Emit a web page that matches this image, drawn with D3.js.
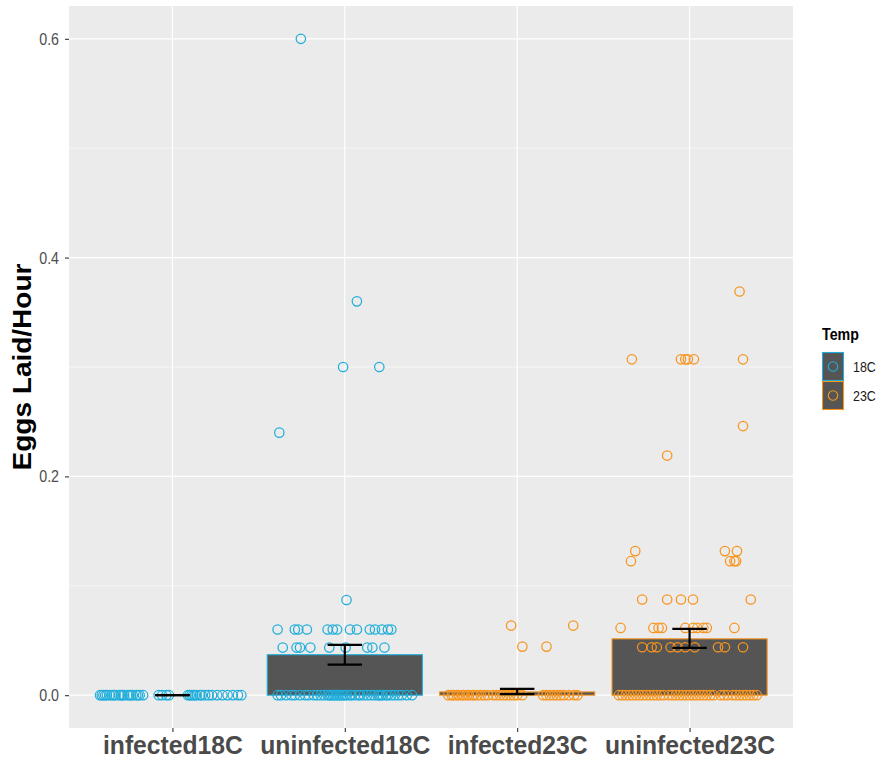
<!DOCTYPE html>
<html>
<head>
<meta charset="utf-8">
<script src="https://cdn.jsdelivr.net/npm/d3@7"></script>
<style>
  html, body { margin: 0; padding: 0; background: #ffffff; }
  svg { display: block; font-family: "Liberation Sans", Arial, sans-serif; }
</style>
</head>
<body>
<svg id="chart" width="889" height="760"></svg>
<script>
// Groups on the x axis and their temperature
const groups = ["infected18C", "uninfected18C", "infected23C", "uninfected23C"];
const groupTemp = ["18C", "18C", "23C", "23C"];
const temps = ["18C", "23C"];
const tempColors = ["#1FAEDB", "#F7951F"];

// Mean eggs laid per hour and standard-error limits
const means = [0, 0.037, 0.003, 0.0515];
const seLow = [0, 0.028, 0.001, 0.0432];
const seHigh = [0, 0.046, 0.0057, 0.0606];

// Individual observations: [eggs per hour, horizontal jitter in group widths]
const infected18C = [
  [0,-0.42],[0,-0.41],[0,-0.40],[0,-0.39],[0,-0.38],[0,-0.365],[0,-0.35],[0,-0.34],[0,-0.33],
  [0,-0.31],[0,-0.30],[0,-0.29],[0,-0.28],[0,-0.26],[0,-0.25],[0,-0.24],[0,-0.23],[0,-0.21],
  [0,-0.20],[0,-0.19],[0,-0.17],
  [0,-0.08],[0,-0.06],[0,-0.035],[0,-0.02],
  [0,0.09],[0,0.10],[0,0.11],[0,0.12],[0,0.13],[0,0.14],[0,0.16],[0,0.17],[0,0.19],[0,0.21],
  [0,0.23],[0,0.26],[0,0.29],[0,0.32],[0,0.35],[0,0.38],[0,0.40]
];
const uninfected18C = [
  [0.6,-0.255],[0.36,0.07],[0.30,-0.01],[0.30,0.20],[0.24,-0.38],[0.087,0.01],
  [0.06,-0.39],[0.06,-0.29],[0.06,-0.27],[0.06,-0.22],[0.06,-0.10],[0.06,-0.07],[0.06,-0.045],
  [0.06,0.03],[0.06,0.07],[0.06,0.145],[0.06,0.175],[0.06,0.215],[0.06,0.25],[0.06,0.27],
  [0.0435,-0.36],[0.0435,-0.28],[0.0435,-0.26],[0.0435,-0.20],[0.0435,-0.09],[0.0435,0.005],
  [0.0435,0.13],[0.0435,0.16],[0.0435,0.23],
  [0,-0.39],[0,-0.37],[0,-0.34],[0,-0.31],[0,-0.29],[0,-0.26],[0,-0.23],[0,-0.21],[0,-0.18],
  [0,-0.16],[0,-0.14],[0,-0.12],[0,-0.10],[0,-0.09],[0,-0.08],[0,-0.07],[0,-0.06],[0,-0.05],
  [0,-0.04],[0,-0.03],[0,-0.02],[0,-0.01],[0,0.0],[0,0.01],[0,0.03],[0,0.04],[0,0.06],[0,0.08],
  [0,0.09],[0,0.11],[0,0.13],[0,0.15],[0,0.17],[0,0.19],[0,0.20],[0,0.21],[0,0.22],[0,0.24],
  [0,0.25],[0,0.27],[0,0.29],[0,0.31],[0,0.33],[0,0.36],[0,0.39]
];
const infected23C = [
  [0.0636,-0.035],[0.0636,0.325],[0.0444,0.03],[0.0444,0.17],
  [0,-0.40],[0,-0.38],[0,-0.37],[0,-0.35],[0,-0.34],[0,-0.32],[0,-0.31],[0,-0.29],[0,-0.28],
  [0,-0.26],[0,-0.25],[0,-0.23],[0,-0.21],[0,-0.19],[0,-0.17],[0,-0.14],[0,-0.12],[0,-0.10],
  [0,-0.08],[0,-0.06],[0,-0.04],[0,-0.02],[0,0.0],[0,0.03],
  [0,0.15],[0,0.17],[0,0.19],[0,0.21],[0,0.23],[0,0.25],[0,0.27],[0,0.30],[0,0.33],[0,0.35]
];
const uninfected23C = [
  [0.369,0.29],[0.307,-0.335],[0.307,-0.05],[0.307,-0.025],[0.307,-0.01],[0.307,0.025],[0.307,0.31],
  [0.246,0.31],[0.219,-0.13],
  [0.1317,-0.315],[0.1317,0.205],[0.1317,0.275],
  [0.1225,-0.34],[0.1225,0.235],[0.1225,0.26],[0.1225,0.27],
  [0.0875,-0.275],[0.0875,-0.13],[0.0875,-0.05],[0.0875,0.02],[0.0875,0.355],
  [0.0615,-0.40],[0.0615,-0.21],[0.0615,-0.18],[0.0615,-0.16],[0.0615,-0.025],[0.0615,0.02],
  [0.0615,0.045],[0.0615,0.08],[0.0615,0.10],[0.0615,0.26],
  [0.0438,-0.275],[0.0438,-0.22],[0.0438,-0.19],[0.0438,-0.11],[0.0438,-0.07],[0.0438,-0.025],
  [0.0438,0.03],[0.0438,0.165],[0.0438,0.205],[0.0438,0.31],
  [0,-0.41],[0,-0.39],[0,-0.37],[0,-0.35],[0,-0.33],[0,-0.31],[0,-0.29],[0,-0.27],[0,-0.25],
  [0,-0.23],[0,-0.21],[0,-0.19],[0,-0.17],[0,-0.15],[0,-0.12],[0,-0.10],[0,-0.08],[0,-0.06],
  [0,-0.04],[0,-0.02],[0,0.0],[0,0.02],[0,0.04],[0,0.06],[0,0.08],[0,0.10],[0,0.12],[0,0.14],
  [0,0.18],[0,0.20],[0,0.22],[0,0.25],[0,0.27],[0,0.29],[0,0.31],[0,0.33],[0,0.35],[0,0.37],[0,0.39]
];
const observations = [infected18C, uninfected18C, infected23C, uninfected23C];

// Axis ticks
const yMajorTicks = [0, 0.2, 0.4, 0.6];
const yMinorTicks = [0.1, 0.3, 0.5];
const yTitle = "Eggs Laid/Hour";
const legendTitle = "Temp";

// Layout
const panel = { left: 69, top: 6, right: 793, bottom: 728 };
const barWidth = 0.9, errWidth = 0.2;
const squeeze = 0.89; // horizontal text compression

const svg = d3.select("#chart");
const colorOf = d3.scaleOrdinal().domain(temps).range(tempColors);

// Discrete x positions (1..n) with 0.6 padding on each side
const x = d3.scaleLinear()
  .domain([0.4, groups.length + 0.6])
  .range([panel.left, panel.right]);
const y = d3.scaleLinear()
  .domain([-0.03, 0.63])
  .range([panel.bottom, panel.top]);
const unit = x(2) - x(1);

// Panel background and grid
svg.append("rect")
  .attr("x", panel.left).attr("y", panel.top)
  .attr("width", panel.right - panel.left).attr("height", panel.bottom - panel.top)
  .attr("fill", "#EBEBEB");

svg.append("g").selectAll("line").data(yMinorTicks).join("line")
  .attr("x1", panel.left).attr("x2", panel.right)
  .attr("y1", d => y(d)).attr("y2", d => y(d))
  .attr("stroke", "#ffffff").attr("stroke-width", 0.6);
svg.append("g").selectAll("line").data(yMajorTicks).join("line")
  .attr("x1", panel.left).attr("x2", panel.right)
  .attr("y1", d => y(d)).attr("y2", d => y(d))
  .attr("stroke", "#ffffff").attr("stroke-width", 1.2);
svg.append("g").selectAll("line").data(groups).join("line")
  .attr("x1", (d, i) => x(i + 1)).attr("x2", (d, i) => x(i + 1))
  .attr("y1", panel.top).attr("y2", panel.bottom)
  .attr("stroke", "#ffffff").attr("stroke-width", 1.2);

// Bars of group means
svg.append("g").selectAll("rect").data(groups).join("rect")
  .attr("x", (d, i) => x(i + 1 - barWidth / 2))
  .attr("width", barWidth * unit)
  .attr("y", (d, i) => y(Math.max(means[i], 0)))
  .attr("height", (d, i) => Math.abs(y(0) - y(means[i])))
  .attr("fill", "#555555")
  .attr("stroke", (d, i) => colorOf(groupTemp[i]))
  .attr("stroke-width", 1.1);

// Jittered observations
const pts = [];
observations.forEach((arr, i) => arr.forEach(([v, j]) => pts.push({ g: i, v, j })));
svg.append("g").selectAll("circle").data(pts).join("circle")
  .attr("cx", d => x(d.g + 1 + d.j))
  .attr("cy", d => y(d.v))
  .attr("r", 4.7)
  .attr("fill", "none")
  .attr("stroke", d => colorOf(groupTemp[d.g]))
  .attr("stroke-width", 1.25);

// Error bars
const eb = svg.append("g").attr("stroke", "#000").attr("stroke-width", 2.2).attr("fill", "none");
groups.forEach((g, i) => {
  const cx = i + 1;
  eb.append("line").attr("x1", x(cx)).attr("x2", x(cx)).attr("y1", y(seLow[i])).attr("y2", y(seHigh[i]));
  eb.append("line").attr("x1", x(cx - errWidth / 2)).attr("x2", x(cx + errWidth / 2)).attr("y1", y(seLow[i])).attr("y2", y(seLow[i]));
  eb.append("line").attr("x1", x(cx - errWidth / 2)).attr("x2", x(cx + errWidth / 2)).attr("y1", y(seHigh[i])).attr("y2", y(seHigh[i]));
});

// Y axis
const yAxis = svg.append("g")
  .attr("transform", `translate(${panel.left},0)`)
  .call(d3.axisLeft(y).tickValues(yMajorTicks).tickFormat(d3.format(".1f")).tickSize(4).tickPadding(6));
yAxis.select(".domain").remove();
yAxis.selectAll(".tick line").attr("stroke", "#333333").attr("stroke-width", 1.1);
yAxis.selectAll(".tick text")
  .attr("font-family", "Liberation Sans, Arial, sans-serif")
  .attr("font-size", 16).attr("fill", "#4D4D4D")
  .attr("x", null).attr("dy", null)
  .attr("transform", `translate(-10,5.6) scale(${squeeze},1)`);

// X axis
const xAxis = svg.append("g")
  .attr("transform", `translate(0,${panel.bottom})`)
  .call(d3.axisBottom(x).tickValues(d3.range(1, groups.length + 1))
    .tickFormat(d => groups[d - 1]).tickSize(4).tickPadding(6));
xAxis.select(".domain").remove();
xAxis.selectAll(".tick line").attr("stroke", "#333333").attr("stroke-width", 1.1);
xAxis.selectAll(".tick text")
  .attr("font-family", "Liberation Sans, Arial, sans-serif")
  .attr("font-size", 26).attr("font-weight", "bold").attr("fill", "#4A4A4A")
  .attr("y", null).attr("dy", null)
  .attr("transform", "translate(0,26) scale(0.95,1)");

// Y axis title
svg.append("text")
  .attr("transform", `translate(31,${(panel.top + panel.bottom) / 2}) scale(${squeeze},1) rotate(-90)`)
  .attr("text-anchor", "middle")
  .attr("font-size", 28).attr("font-weight", "bold").attr("fill", "#000")
  .text(yTitle);

// Legend
const leg = svg.append("g").attr("transform", "translate(822,352)");
leg.append("text")
  .attr("transform", `translate(0,-12) scale(${squeeze},1)`)
  .attr("font-size", 16).attr("font-weight", "bold").attr("fill", "#000")
  .text(legendTitle);
const keyW = 22, keyH = 29;
const keys = leg.selectAll("g.key").data(temps).join("g")
  .attr("class", "key")
  .attr("transform", (d, i) => `translate(0,${i * keyH})`);
keys.append("rect")
  .attr("x", 0.5).attr("y", 0.5).attr("width", keyW - 1).attr("height", keyH - 1)
  .attr("fill", "#555555").attr("stroke", d => colorOf(d)).attr("stroke-width", 1.1);
keys.append("circle")
  .attr("cx", keyW / 2).attr("cy", keyH / 2).attr("r", 4.7)
  .attr("fill", "none").attr("stroke", d => colorOf(d)).attr("stroke-width", 1.1);
keys.append("text")
  .attr("transform", `translate(${keyW + 9},${keyH / 2 + 5}) scale(${squeeze},1)`)
  .attr("font-size", 14).attr("fill", "#1A1A1A")
  .text(d => d);
</script>
</body>
</html>
